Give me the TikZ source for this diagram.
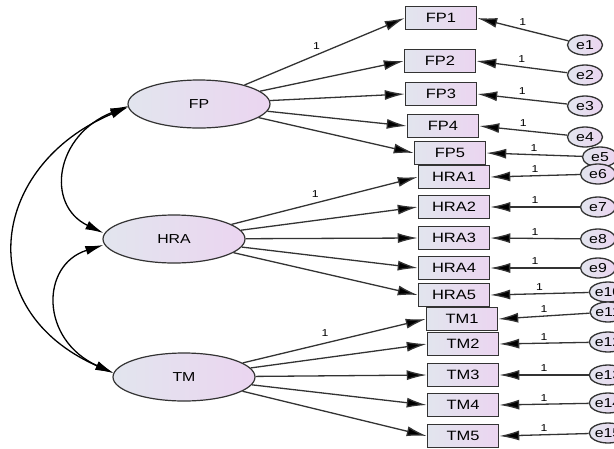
\documentclass[tikz,border=0pt]{standalone}
\usepackage{fontspec}
\setmainfont[FakeStretch=1.22]{Liberation Sans}
\usetikzlibrary{arrows.meta,shapes.geometric}
\definecolor{lgray}{HTML}{E2E5EE}
\definecolor{lpink}{HTML}{EBD5F0}
\definecolor{edge}{HTML}{333333}
\tikzset{
  latent/.style={ellipse, draw=edge, line width=1.2pt, left color=lgray, right color=lpink,
    minimum width=142pt, minimum height=48pt, inner sep=0pt, font=\fontsize{13}{15}\selectfont},
  obs/.style={rectangle, draw=edge, line width=1.5pt, left color=lgray, right color=lpink,
    minimum width=71pt, minimum height=23pt, inner sep=0pt, font=\fontsize{13.5}{15}\selectfont},
  err/.style={ellipse, draw=edge, line width=1.3pt, left color=lgray, right color=lpink,
    minimum width=35pt, minimum height=20pt, inner sep=0pt, font=\fontsize{13}{15}\selectfont},
  load/.style={draw=edge, line width=1.3pt, -{Latex[length=20pt,width=10pt,fill=black]}},
  cov/.style={draw=black, line width=1.3pt, {Latex[length=18pt,width=9pt]}-{Latex[length=18pt,width=9pt]}},
  one/.style={font=\fontsize{10}{11}\selectfont, inner sep=1.5pt}
}
\begin{document}
\begin{tikzpicture}[x=1pt,y=-1pt]
\useasboundingbox (0,0) rectangle (614,448);
% latent
\node[latent] (FP) at (199,104) {FP};
\node[latent] (HRA) at (174,239) {HRA};
\node[latent] (TM) at (184,377) {TM};
% observed
\node[obs] (FP1) at (441,18) {FP1};
\node[obs] (FP2) at (440,61) {FP2};
\node[obs] (FP3) at (441,94) {FP3};
\node[obs] (FP4) at (443,126) {FP4};
\node[obs] (FP5) at (450,153) {FP5};
\node[obs] (HRA1) at (454,177) {HRA1};
\node[obs] (HRA2) at (454,207) {HRA2};
\node[obs] (HRA3) at (454,238) {HRA3};
\node[obs] (HRA4) at (454,268) {HRA4};
\node[obs] (HRA5) at (454,295) {HRA5};
\node[obs] (TM1) at (462,319) {TM1};
\node[obs] (TM2) at (463,344) {TM2};
\node[obs] (TM3) at (463,375) {TM3};
\node[obs] (TM4) at (463,405) {TM4};
\node[obs] (TM5) at (463,436) {TM5};
% errors
\node[err] (e1) at (585,45) {e1};
\node[err] (e2) at (585,75) {e2};
\node[err] (e3) at (585,106) {e3};
\node[err] (e4) at (585,137) {e4};
\node[err] (e5) at (600,157) {e5};
\node[err] (e6) at (598,174) {e6};
\node[err] (e7) at (598,207) {e7};
\node[err] (e8) at (598,239) {e8};
\node[err] (e9) at (598,268) {e9};
\node[err] (e10) at (608,292) {e10};
\node[err] (e11) at (608,312) {e11};
\node[err] (e12) at (608,342) {e12};
\node[err] (e13) at (608,375) {e13};
\node[err] (e14) at (608,403) {e14};
\node[err] (e15) at (608,433) {e15};
% loadings
\draw[load] (FP) -- node[one, above=3pt, pos=0.45] (l1) {1} (FP1.west);
\foreach \i in {2,...,5} \draw[load] (FP) -- (FP\i.west);
\draw[load] (HRA) -- node[one, above=3pt, pos=0.45] (l2) {1} (HRA1.west);
\foreach \i in {2,...,5} \draw[load] (HRA) -- (HRA\i.west);
\draw[load] (TM) -- node[one, above=5pt, pos=0.45] (l3) {1} (TM1.west);
\foreach \i in {2,...,5} \draw[load] (TM) -- (TM\i.west);
% errors to indicators
\draw[load] (e1) -- node[one, above=2pt] {1} (FP1.east);
\draw[load] (e2) -- node[one, above=2pt] {1} (FP2.east);
\draw[load] (e3) -- node[one, above=2pt] {1} (FP3.east);
\draw[load] (e4) -- node[one, above=2pt] {1} (FP4.east);
\draw[load] (e5) -- node[one, above=1pt] {1} (FP5.east);
\draw[load] (e6) -- node[one, above=1pt] {1} (HRA1.east);
\draw[load] (e7) -- node[one, above=1pt] {1} (HRA2.east);
\draw[load] (e8) -- node[one, above=1pt] {1} (HRA3.east);
\draw[load] (e9) -- node[one, above=1pt] {1} (HRA4.east);
\draw[load] (e10) -- node[one, above=1pt] {1} (HRA5.east);
\draw[load] (e11) -- node[one, above=1pt] {1} (TM1.east);
\draw[load] (e12) -- node[one, above=1pt] {1} (TM2.east);
\draw[load] (e13) -- node[one, above=1pt] {1} (TM3.east);
\draw[load] (e14) -- node[one, above=1pt] {1} (TM4.east);
\draw[load] (e15) -- node[one, above=1pt] {1} (TM5.east);
% covariances
\draw[cov] ([shift={(1,2)}]FP.west) .. controls (55,135) and (45,205) .. ([shift={(1,-6)}]HRA.west);
\draw[cov] ([shift={(1,3)}]FP.west) .. controls (-10,165) and (-30,310) .. ([shift={(1,-4)}]TM.west);
\draw[cov] ([shift={(1,6)}]HRA.west) .. controls (40,265) and (40,340) .. ([shift={(1,-4)}]TM.west);
\end{tikzpicture}
\end{document}
